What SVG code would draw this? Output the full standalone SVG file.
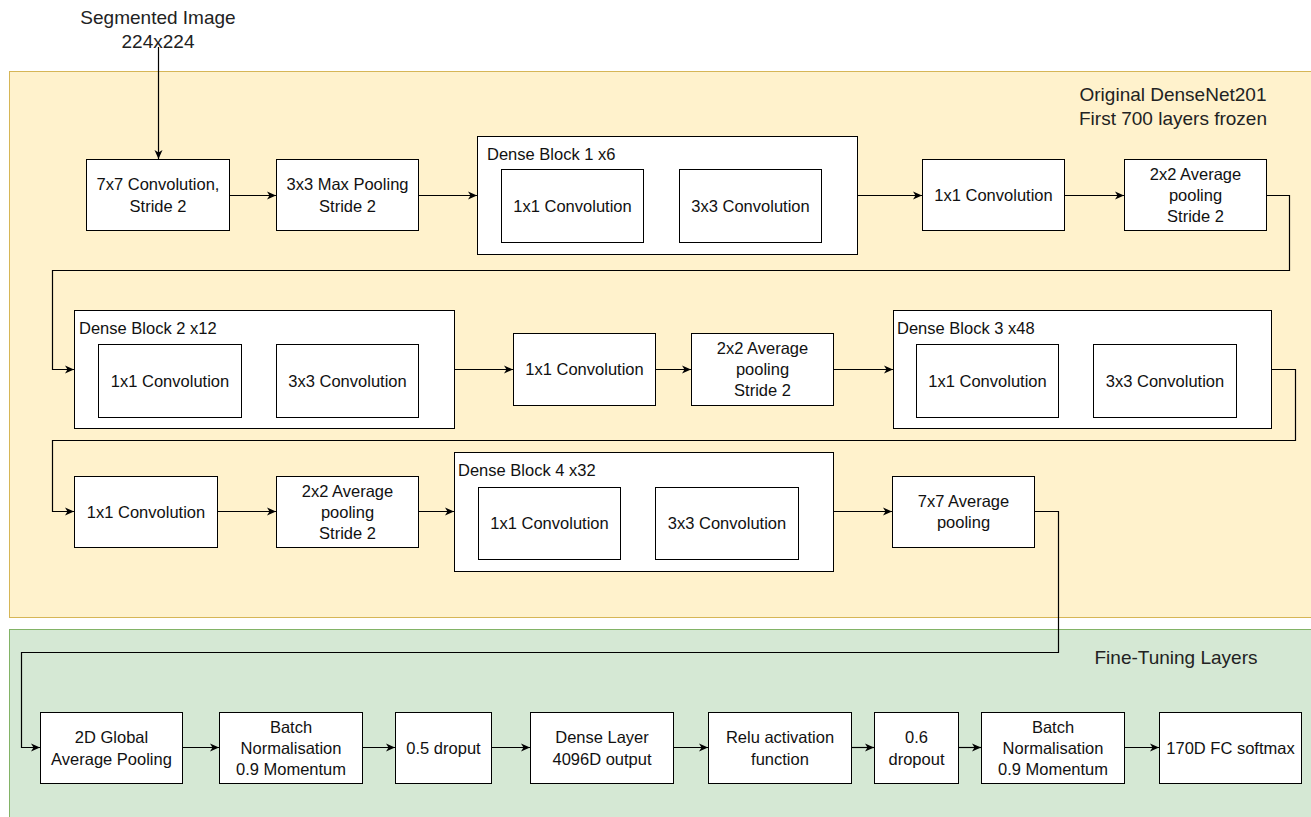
<svg xmlns="http://www.w3.org/2000/svg" width="1311" height="817" viewBox="0 0 1311 817">
<defs>
<marker id="arr" markerUnits="userSpaceOnUse" markerWidth="10" markerHeight="10" refX="9" refY="4.5" orient="auto">
<path d="M0,0.5 L9,4.5 L0,8.5 L2.5,4.5 Z" fill="#000"/>
</marker>
</defs>
<style>
.box{fill:#fff;stroke:#000;stroke-width:1}
.t{font-family:"Liberation Sans",Arial,sans-serif;font-size:16.5px;fill:#111;text-anchor:middle;dominant-baseline:central}
.lbl{font-family:"Liberation Sans",Arial,sans-serif;font-size:16.5px;fill:#111}
.h{font-family:"Liberation Sans",Arial,sans-serif;font-size:19px;fill:#222;text-anchor:middle}
.c{fill:none;stroke:#000;stroke-width:1.2}
</style>
<rect width="1311" height="817" fill="#fff"/>
<g id="frozen-region">
<rect x="9.5" y="71.5" width="1310" height="546" fill="#fff2cc" stroke="#d6b656"/>
<text class="h" x="1173" y="101">Original DenseNet201</text>
<text class="h" x="1173" y="125">First 700 layers frozen</text>
</g>
<g id="finetune-region">
<rect x="9.5" y="629.5" width="1310" height="200" fill="#d5e8d4" stroke="#82b366"/>
<text class="h" x="1176" y="664">Fine-Tuning Layers</text>
</g>
<g id="input">
<text class="h" x="158" y="24">Segmented Image</text>
<text class="h" x="158" y="48">224x224</text>
</g>
<g id="conv7">
<rect class="box" x="86.5" y="159.5" width="143" height="71"/>
<text class="t" x="158" y="184">7x7 Convolution,</text>
<text class="t" x="158" y="206">Stride 2</text>
</g>
<g id="maxpool">
<rect class="box" x="276.5" y="159.5" width="142" height="71"/>
<text class="t" x="347.5" y="184">3x3 Max Pooling</text>
<text class="t" x="347.5" y="206">Stride 2</text>
</g>
<g id="dense1">
<rect class="box" x="477.5" y="136.5" width="380" height="118"/>
<text class="lbl" x="487" y="160">Dense Block 1 x6</text>
<rect class="box" x="501.5" y="169.5" width="142" height="73"/>
<text class="t" x="572.5" y="206">1x1 Convolution</text>
<rect class="box" x="679.5" y="169.5" width="142" height="73"/>
<text class="t" x="750.5" y="206">3x3 Convolution</text>
</g>
<g id="conv1a">
<rect class="box" x="922.5" y="159.5" width="142" height="71"/>
<text class="t" x="993.5" y="195">1x1 Convolution</text>
</g>
<g id="avgpool1">
<rect class="box" x="1124.5" y="159.5" width="142" height="71"/>
<text class="t" x="1195.5" y="174">2x2 Average</text>
<text class="t" x="1195.5" y="195">pooling</text>
<text class="t" x="1195.5" y="216">Stride 2</text>
</g>
<g id="dense2">
<rect class="box" x="74.5" y="310.5" width="380" height="118"/>
<text class="lbl" x="79" y="334">Dense Block 2 x12</text>
<rect class="box" x="98.5" y="344.5" width="143" height="73"/>
<text class="t" x="170" y="381">1x1 Convolution</text>
<rect class="box" x="276.5" y="344.5" width="142" height="73"/>
<text class="t" x="347.5" y="381">3x3 Convolution</text>
</g>
<g id="conv1b">
<rect class="box" x="513.5" y="333.5" width="142" height="72"/>
<text class="t" x="584.5" y="369">1x1 Convolution</text>
</g>
<g id="avgpool2">
<rect class="box" x="691.5" y="333.5" width="142" height="72"/>
<text class="t" x="762.5" y="348">2x2 Average</text>
<text class="t" x="762.5" y="369">pooling</text>
<text class="t" x="762.5" y="390">Stride 2</text>
</g>
<g id="dense3">
<rect class="box" x="893.5" y="310.5" width="378" height="118"/>
<text class="lbl" x="897" y="334">Dense Block 3 x48</text>
<rect class="box" x="916.5" y="344.5" width="142" height="73"/>
<text class="t" x="987.5" y="381">1x1 Convolution</text>
<rect class="box" x="1093.5" y="344.5" width="143" height="73"/>
<text class="t" x="1165" y="381">3x3 Convolution</text>
</g>
<g id="conv1c">
<rect class="box" x="74.5" y="476.5" width="143" height="71"/>
<text class="t" x="146" y="512">1x1 Convolution</text>
</g>
<g id="avgpool3">
<rect class="box" x="276.5" y="476.5" width="142" height="71"/>
<text class="t" x="347.5" y="491">2x2 Average</text>
<text class="t" x="347.5" y="512">pooling</text>
<text class="t" x="347.5" y="533">Stride 2</text>
</g>
<g id="dense4">
<rect class="box" x="454.5" y="452.5" width="379" height="119"/>
<text class="lbl" x="458" y="476">Dense Block 4 x32</text>
<rect class="box" x="478.5" y="487.5" width="142" height="72"/>
<text class="t" x="549.5" y="523">1x1 Convolution</text>
<rect class="box" x="655.5" y="487.5" width="143" height="72"/>
<text class="t" x="727" y="523">3x3 Convolution</text>
</g>
<g id="avgpool7">
<rect class="box" x="892.5" y="476.5" width="142" height="71"/>
<text class="t" x="963.5" y="501">7x7 Average</text>
<text class="t" x="963.5" y="522">pooling</text>
</g>
<g id="gap">
<rect class="box" x="40.5" y="712.5" width="142" height="71"/>
<text class="t" x="111.5" y="737">2D Global</text>
<text class="t" x="111.5" y="759">Average Pooling</text>
</g>
<g id="bn1">
<rect class="box" x="219.5" y="712.5" width="143" height="71"/>
<text class="t" x="291" y="727">Batch</text>
<text class="t" x="291" y="748">Normalisation</text>
<text class="t" x="291" y="769">0.9 Momentum</text>
</g>
<g id="drop1">
<rect class="box" x="395.5" y="712.5" width="96" height="71"/>
<text class="t" x="443.5" y="748">0.5 droput</text>
</g>
<g id="denselayer">
<rect class="box" x="530.5" y="712.5" width="143" height="71"/>
<text class="t" x="602" y="737">Dense Layer</text>
<text class="t" x="602" y="759">4096D output</text>
</g>
<g id="relu">
<rect class="box" x="708.5" y="712.5" width="143" height="71"/>
<text class="t" x="780" y="737">Relu activation</text>
<text class="t" x="780" y="759">function</text>
</g>
<g id="drop2">
<rect class="box" x="874.5" y="712.5" width="84" height="71"/>
<text class="t" x="916.5" y="737">0.6</text>
<text class="t" x="916.5" y="759">dropout</text>
</g>
<g id="bn2">
<rect class="box" x="981.5" y="712.5" width="143" height="71"/>
<text class="t" x="1053" y="727">Batch</text>
<text class="t" x="1053" y="748">Normalisation</text>
<text class="t" x="1053" y="769">0.9 Momentum</text>
</g>
<g id="softmax">
<rect class="box" x="1159.5" y="712.5" width="142" height="71"/>
<text class="t" x="1230.5" y="748">170D FC softmax</text>
</g>
<g id="connectors">
<path class="c" d="M158.5,47 V159" marker-end="url(#arr)"/>
<path class="c" d="M229.5,195.5 H276" marker-end="url(#arr)"/>
<path class="c" d="M418.5,195.5 H477" marker-end="url(#arr)"/>
<path class="c" d="M857.5,195.5 H922" marker-end="url(#arr)"/>
<path class="c" d="M1064.5,195.5 H1124" marker-end="url(#arr)"/>
<path class="c" d="M1266.5,195.5 H1289.5 V270.5 H52.5 V369.5 H74" marker-end="url(#arr)"/>
<path class="c" d="M454.5,369.5 H513" marker-end="url(#arr)"/>
<path class="c" d="M655.5,369.5 H691" marker-end="url(#arr)"/>
<path class="c" d="M833.5,369.5 H893" marker-end="url(#arr)"/>
<path class="c" d="M1271.5,369.5 H1295.5 V440.5 H52.5 V511.5 H74" marker-end="url(#arr)"/>
<path class="c" d="M217.5,511.5 H276" marker-end="url(#arr)"/>
<path class="c" d="M418.5,511.5 H454" marker-end="url(#arr)"/>
<path class="c" d="M833.5,511.5 H892" marker-end="url(#arr)"/>
<path class="c" d="M1034.5,511.5 H1058.5 V652.5 H21.5 V747.5 H40" marker-end="url(#arr)"/>
<path class="c" d="M182.5,747.5 H219" marker-end="url(#arr)"/>
<path class="c" d="M362.5,747.5 H395" marker-end="url(#arr)"/>
<path class="c" d="M491.5,747.5 H530" marker-end="url(#arr)"/>
<path class="c" d="M673.5,747.5 H708" marker-end="url(#arr)"/>
<path class="c" d="M851.5,747.5 H874" marker-end="url(#arr)"/>
<path class="c" d="M958.5,747.5 H981" marker-end="url(#arr)"/>
<path class="c" d="M1124.5,747.5 H1159" marker-end="url(#arr)"/>
</g>
</svg>
